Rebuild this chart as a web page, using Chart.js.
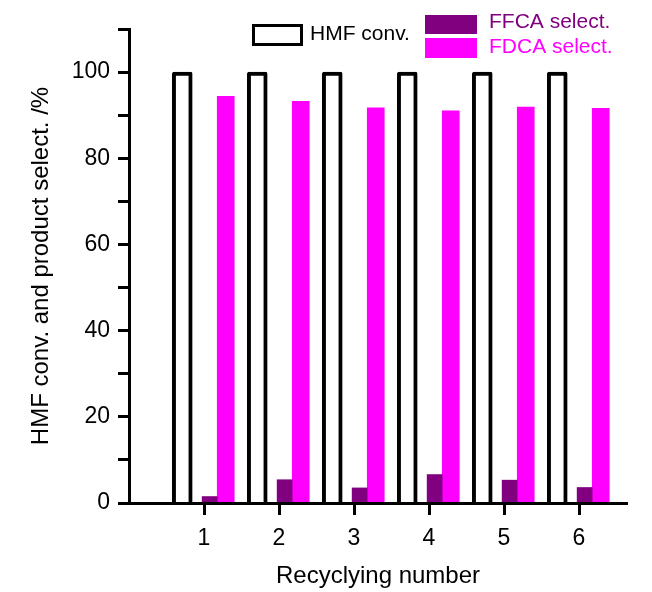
<!DOCTYPE html>
<html>
<head>
<meta charset="utf-8">
<script src="https://cdn.jsdelivr.net/npm/chart.js@4.4.1/dist/chart.umd.min.js"></script>
<style>
  html, body { margin: 0; padding: 0; background: #fff; }
</style>
</head>
<body>
<canvas id="grafico" width="652" height="592"></canvas>
<script>
// Datos de reciclaje del catalizador
const ciclos = [1, 2, 3, 4, 5, 6];
const hmfConv = [100, 100, 100, 100, 100, 100];
const ffcaSel = [1.5, 5.4, 3.5, 6.6, 5.3, 3.6];
const fdcaSel = [94.4, 93.2, 91.7, 91.0, 91.9, 91.6];
const yTicks = [0, 10, 20, 30, 40, 50, 60, 70, 80, 90, 100, 110];
const yLabels = [0, 20, 40, 60, 80, 100];

const FUENTE = '"Liberation Sans", Arial, Helvetica, sans-serif';

// desplazamiento de cada barra respecto al número de ciclo
function puntos(valores, desp) {
  return ciclos.map((c, i) => ({ x: c + desp, y: valores[i] }));
}

// Leyenda dibujada a mano (dos columnas)
const leyenda = {
  id: 'leyenda',
  afterDraw(chart) {
    const c = chart.ctx;
    const ds = chart.data.datasets;
    c.save();
    c.font = '21px ' + FUENTE;
    c.textBaseline = 'middle';
    c.textAlign = 'left';

    c.fillStyle = ds[0].backgroundColor;
    c.fillRect(253, 25, 49, 19);
    c.lineWidth = 3;
    c.strokeStyle = ds[0].borderColor;
    c.strokeRect(253.5, 25.5, 48, 19);
    c.fillStyle = '#000';
    c.fillText(ds[0].label, 310, 34);

    c.fillStyle = ds[1].backgroundColor;
    c.fillRect(425, 15, 52, 19);
    c.fillText(ds[1].label, 489, 22);

    c.fillStyle = ds[2].backgroundColor;
    c.fillRect(425, 38, 52, 20);
    c.fillText(ds[2].label, 489, 47);
    c.restore();
  }
};

const ctx = document.getElementById('grafico').getContext('2d');
const chart = new Chart(ctx, {
  type: 'bar',
  data: {
    datasets: [
      {
        label: 'HMF conv.',
        data: puntos(hmfConv, -0.29),
        backgroundColor: '#ffffff',
        borderColor: '#000000',
        borderWidth: 4,
        borderRadius: 2,
        barThickness: 20
      },
      {
        label: 'FFCA select.',
        data: puntos(ffcaSel, 0.075),
        backgroundColor: '#800080',
        barThickness: 15
      },
      {
        label: 'FDCA select.',
        data: puntos(fdcaSel, 0.29),
        backgroundColor: '#ff00ff',
        barThickness: 17
      }
    ]
  },
  options: {
    responsive: false,
    animation: false,
    events: [],
    layout: { padding: { top: 29, right: 25, left: 0, bottom: 0 } },
    datasets: { bar: { grouped: false } },
    plugins: {
      legend: { display: false },
      tooltip: { enabled: false }
    },
    scales: {
      x: {
        type: 'linear',
        min: 0,
        max: 6.64,
        offset: false,
        afterBuildTicks: s => { s.ticks = ciclos.map(v => ({ value: v })); },
        afterFit: s => { s.height = 89; },
        border: { display: true, color: '#000', width: 3, z: 1 },
        grid: { offset: false, drawOnChartArea: false, drawTicks: true, tickLength: 12, tickWidth: 3, tickColor: '#000' },
        ticks: { color: '#000', font: { family: FUENTE, size: 23 }, padding: 10, maxRotation: 0 },
        title: { display: true, text: 'Recyclying number', color: '#000', font: { family: FUENTE, size: 24 }, padding: { top: 0, bottom: 1 } },
        z: 1
      },
      y: {
        min: 0,
        max: 110,
        afterBuildTicks: s => { s.ticks = yTicks.map(v => ({ value: v })); },
        afterFit: s => { s.width = 129; },
        border: { display: true, color: '#000', width: 3 },
        grid: { drawOnChartArea: false, drawTicks: true, tickLength: 11, tickWidth: 3, tickColor: '#000' },
        ticks: {
          color: '#000',
          font: { family: FUENTE, size: 23 },
          padding: 8,
          callback: v => yLabels.includes(v) ? String(v) : ''
        },
        title: { display: true, text: 'HMF conv. and product select. /%', color: '#000', font: { family: FUENTE, size: 24 }, padding: { top: 27, bottom: 0 } },
        z: 1
      }
    }
  },
  plugins: [leyenda]
});
</script>
</body>
</html>
